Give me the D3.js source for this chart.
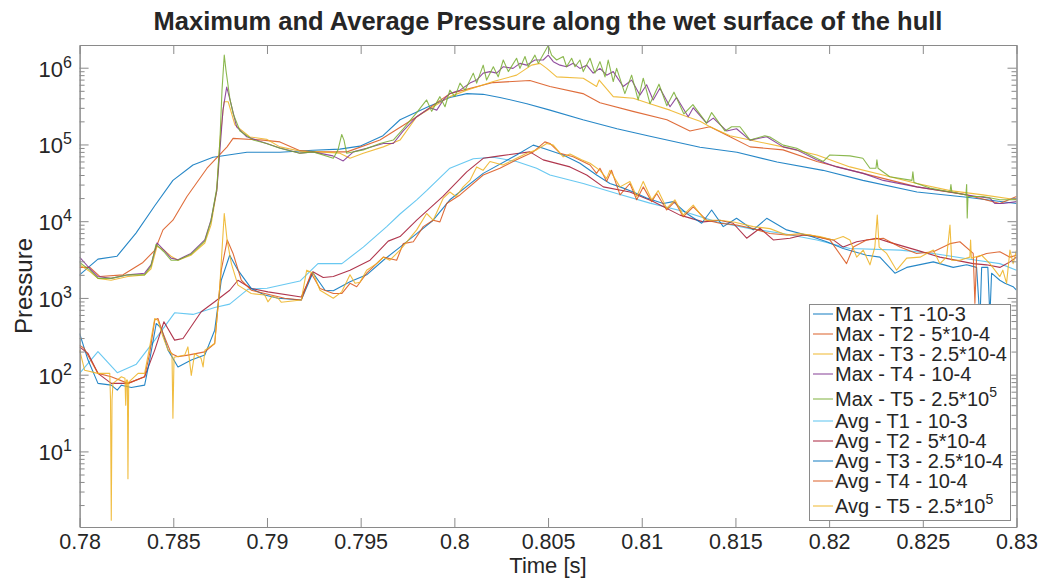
<!DOCTYPE html>
<html><head><meta charset="utf-8">
<script src="https://cdn.jsdelivr.net/npm/d3@7"></script>
<style>
body{margin:0;background:#fff}
svg{display:block}
text{font-family:"Liberation Sans",Arial,Helvetica,sans-serif;fill:#262626}
</style>
</head><body><svg id="c" width="1040" height="578"></svg>
<script>
// ---------- tick labels ----------
const xTicks = [0.78,0.785,0.79,0.795,0.8,0.805,0.81,0.815,0.82,0.825,0.83];
const yTickExps = [1,2,3,4,5,6];

// ---------- legend ----------
const legendLabels = [
  ["Max - T1 -10-3",""],["Max - T2 - 5*10-4",""],["Max - T3 - 2.5*10-4",""],["Max - T4 - 10-4",""],
  ["Max - T5 - 2.5*10","5"],["Avg - T1 - 10-3",""],["Avg - T2 - 5*10-4",""],["Avg - T3 - 2.5*10-4",""],
  ["Avg - T4 - 10-4",""],["Avg - T5 - 2.5*10","5"]
];
const seriesColors = ["#0072BD","#D95319","#EDB120","#7E2F8E","#77AC30","#4DBEEE","#A2142F","#0072BD","#D95319","#EDB120"];

// ---------- series: [time (s), pressure] ----------
const maxT1 = [[0.78,2.0e3],[0.78098,3.2e3],[0.782,3.5e3],[0.78301,7.0e3],[0.78402,1.6e4],[0.78498,3.4e4],[0.78605,5.4e4],[0.78712,6.8e4],[0.78893,7.9e4],[0.79069,7.9e4],[0.79245,8.4e4],[0.79389,8.7e4],[0.79496,9.5e4],[0.79619,1.3e5],[0.7971,2.1e5],[0.79854,3.05e5],[0.79976,4.1e5],[0.80067,4.6e5],[0.80153,4.5e5],[0.80243,4.1e5],[0.80387,3.4e5],[0.8051,2.8e5],[0.80686,2.1e5],[0.80868,1.6e5],[0.81044,1.28e5],[0.81311,9.2e4],[0.81508,7.9e4],[0.81722,5.9e4],[0.81967,4.6e4],[0.8218,3.4e4],[0.82469,2.4e4],[0.82735,2.05e4],[0.83,1.7e4]];

const maxT2 = [[0.78,2.5e3],[0.78055,2.5e3],[0.78109,1.9e3],[0.78232,2.0e3],[0.78338,2.9e3],[0.78402,4.2e3],[0.78445,7.7e3],[0.78498,1.03e4],[0.78573,2.1e4],[0.7868,4.9e4],[0.78787,9.3e4],[0.78819,1.2e5],[0.78979,1.14e5],[0.79069,1.08e5],[0.79176,8.3e4],[0.79245,8.0e4],[0.79427,8.0e4],[0.79603,1.14e5],[0.798,2.3e5],[0.79976,4.6e5],[0.80206,6.4e5],[0.80403,6.8e5],[0.8051,5.7e5],[0.80686,4.6e5],[0.80777,3.5e5],[0.80953,2.7e5],[0.81134,2.1e5],[0.81257,1.5e5],[0.81364,1.7e5],[0.81471,1.26e5],[0.81578,9.3e4],[0.81754,8.5e4],[0.81935,6.0e4],[0.82181,4.2e4],[0.82469,2.8e4],[0.82736,2.2e4],[0.82911,1.7e4],[0.83,2.1e4]];

const maxT3 = [[0.78,2.7e3],[0.78055,2.2e3],[0.78098,1.8e3],[0.78168,1.7e3],[0.78258,1.9e3],[0.78347,2.0e3],[0.78381,2.4e3],[0.78413,4.7e3],[0.7845,4.2e3],[0.78488,3.5e3],[0.78525,3.1e3],[0.78594,3.6e3],[0.78668,5.2e3],[0.78701,8.9e3],[0.78732,2.5e4],[0.78749,1.14e5],[0.78771,3.6e5],[0.78793,3.6e5],[0.78829,1.8e5],[0.78909,1.25e5],[0.78998,1.17e5],[0.79069,9.3e4],[0.79176,8.2e4],[0.79283,8.0e4],[0.79389,7.7e4],[0.79443,6.6e4],[0.79514,7.7e4],[0.79621,9.3e4],[0.7971,1.14e5],[0.79799,2.3e5],[0.79887,3.1e5],[0.79976,4.2e5],[0.80066,5.1e5],[0.80208,6.6e5],[0.80332,8.0e5],[0.80412,1.08e6],[0.80457,1.14e6],[0.80493,9.8e5],[0.80546,7.6e5],[0.80688,7.3e5],[0.80759,5.7e5],[0.80773,6.9e5],[0.80848,4.2e5],[0.80955,4.0e5],[0.81044,3.4e5],[0.81151,2.8e5],[0.81221,2.4e5],[0.81311,2.0e5],[0.81364,1.7e5],[0.81471,1.3e5],[0.81578,1.14e5],[0.81753,9.3e4],[0.81935,7.3e4],[0.82111,5.1e4],[0.82287,4.0e4],[0.82469,3.1e4],[0.82645,2.5e4],[0.82821,2.2e4],[0.83,1.9e4]];

const maxT4 = [[0.78,3.4e3],[0.78055,2.4e3],[0.78098,1.9e3],[0.78168,1.8e3],[0.78258,2.0e3],[0.78347,2.1e3],[0.78381,2.7e3],[0.78413,5.2e3],[0.7845,4.2e3],[0.78488,3.3e3],[0.78525,3.15e3],[0.78594,3.8e3],[0.78668,5.7e3],[0.78701,1.03e4],[0.78732,2.5e4],[0.78749,8.5e4],[0.78765,2.8e5],[0.78785,5.6e5],[0.78803,3.8e5],[0.78838,1.7e5],[0.78892,1.26e5],[0.78998,1.03e5],[0.79069,9.0e4],[0.79176,7.7e4],[0.79245,8.0e4],[0.79352,7.1e4],[0.79407,6.1e4],[0.79461,8.0e4],[0.79532,8.9e4],[0.79621,1.03e5],[0.79674,1.03e5],[0.79727,1.5e5],[0.79799,2.3e5],[0.7987,3.0e5],[0.79906,2.8e5],[0.79941,3.8e5],[0.79976,4.6e5],[0.8003,5.1e5],[0.80083,6.3e5],[0.80119,6.9e5],[0.80154,8.5e5],[0.8019,8.9e5],[0.80226,8.5e5],[0.80261,1.03e6],[0.80313,9.8e5],[0.8035,1.14e6],[0.80386,1.08e6],[0.8043,1.26e6],[0.80474,1.26e6],[0.80501,1.46e6],[0.80528,1.2e6],[0.80564,1.08e6],[0.80599,1.03e6],[0.80634,1.14e6],[0.8067,9.8e5],[0.80706,1.08e6],[0.80741,8.5e5],[0.80777,9.8e5],[0.80813,8.0e5],[0.80848,8.9e5],[0.80901,5.7e5],[0.80946,6.9e5],[0.8099,4.4e5],[0.81026,6.0e5],[0.81061,3.8e5],[0.81097,5.4e5],[0.81151,3.1e5],[0.81186,4.1e5],[0.81248,2.3e5],[0.81275,3.0e5],[0.81346,1.9e5],[0.81382,2.2e5],[0.81453,1.5e5],[0.81506,1.6e5],[0.81578,1.14e5],[0.81667,1.26e5],[0.81755,9.3e4],[0.81827,8.5e4],[0.81933,6.3e4],[0.8204,5.1e4],[0.82182,4.2e4],[0.82289,3.4e4],[0.82467,2.8e4],[0.82645,2.4e4],[0.82787,2.1e4],[0.82858,2.0e4],[0.82885,1.7e4],[0.82929,1.7e4],[0.83,1.8e4]];

const maxT5 = [[0.78,2.9e3],[0.78055,2.3e3],[0.78098,1.8e3],[0.78168,1.8e3],[0.78258,2.0e3],[0.78347,2.0e3],[0.78381,2.6e3],[0.78408,5.0e3],[0.7845,4.0e3],[0.78488,3.1e3],[0.78525,3.1e3],[0.78594,3.7e3],[0.78668,5.5e3],[0.78701,1.0e4],[0.78732,2.7e4],[0.78749,1.14e5],[0.7876,5.1e5],[0.78772,1.46e6],[0.78781,9.3e5],[0.78803,3.8e5],[0.7882,2.5e5],[0.78856,1.5e5],[0.78927,1.14e5],[0.78998,1.03e5],[0.79069,8.9e4],[0.79176,7.7e4],[0.79247,8.0e4],[0.79354,6.6e4],[0.79379,8.5e4],[0.79399,1.35e5],[0.79411,1.14e5],[0.79425,7.7e4],[0.79514,8.5e4],[0.79603,1.03e5],[0.79674,1.14e5],[0.79727,1.6e5],[0.79799,2.6e5],[0.79852,3.8e5],[0.79879,2.7e5],[0.79923,4.2e5],[0.7995,3.1e5],[0.79976,5.1e5],[0.80003,4.2e5],[0.8003,6.3e5],[0.80057,5.1e5],[0.80101,8.5e5],[0.80119,6.3e5],[0.80154,1.08e6],[0.80172,6.9e5],[0.80208,1.03e6],[0.80234,7.6e5],[0.80261,1.26e6],[0.80288,8.9e5],[0.80332,1.33e6],[0.8035,9.8e5],[0.80377,1.4e6],[0.80394,1.03e6],[0.8043,1.46e6],[0.80448,1.14e6],[0.80501,1.95e6],[0.80519,1.46e6],[0.80546,1.26e6],[0.80581,1.4e6],[0.80599,1.03e6],[0.80626,1.33e6],[0.80644,1.03e6],[0.8067,1.26e6],[0.80688,8.9e5],[0.80724,1.33e6],[0.8075,8.5e5],[0.80777,1.2e6],[0.80804,7.6e5],[0.80821,1.26e6],[0.80848,6.6e5],[0.80866,9.8e5],[0.8091,4.6e5],[0.80946,8.0e5],[0.80981,3.8e5],[0.81008,7.3e5],[0.81044,3.4e5],[0.81092,6.1e5],[0.81134,3.2e5],[0.81172,4.8e5],[0.81225,2.5e5],[0.81273,3.3e5],[0.81346,1.9e5],[0.81373,2.6e5],[0.81444,1.5e5],[0.8148,1.7e5],[0.81524,1.7e5],[0.81578,1.14e5],[0.81657,1.3e5],[0.81684,1.25e5],[0.81755,9.8e4],[0.81827,8.9e4],[0.81898,7.3e4],[0.81969,6.0e4],[0.82004,7.3e4],[0.82111,7.1e4],[0.8218,6.6e4],[0.82218,4.9e4],[0.8225,4.9e4],[0.82255,6.3e4],[0.82261,4.9e4],[0.82324,3.8e4],[0.82442,3.4e4],[0.82447,4.4e4],[0.82453,3.2e4],[0.82538,2.7e4],[0.82645,2.4e4],[0.8265,3.0e4],[0.82655,2.4e4],[0.8273,2.2e4],[0.82734,3.0e4],[0.82737,1.1e4],[0.82741,2.1e4],[0.82821,2.1e4],[0.82911,1.9e4],[0.83,1.9e4]];

const avgT1 = [[0.78,104],[0.78098,200],[0.78201,106],[0.78303,137],[0.78401,282],[0.78507,640],[0.78605,610],[0.78721,750],[0.78801,830],[0.78899,1.3e3],[0.79,1.34e3],[0.79176,1.66e3],[0.79272,2.8e3],[0.794,2.8e3],[0.79514,4.6e3],[0.79639,8.5e3],[0.7971,1.24e4],[0.79799,1.9e4],[0.79852,2.5e4],[0.79976,4.9e4],[0.80101,6.5e4],[0.80208,6.8e4],[0.80332,6.0e4],[0.80439,4.9e4],[0.8051,4.0e4],[0.80688,3.1e4],[0.80866,2.3e4],[0.81044,1.72e4],[0.8122,1.35e4],[0.814,9.8e3],[0.81578,8.0e3],[0.81753,6.9e3],[0.81935,5.7e3],[0.82111,4.4e3],[0.82378,4.2e3],[0.82556,3.8e3],[0.82787,3.1e3],[0.82911,2.8e3],[0.83,2.3e3]];

const avgT2 = [[0.78,230],[0.78045,189],[0.78098,104],[0.78169,77],[0.78258,77],[0.78347,94],[0.78401,209],[0.7845,490],[0.78507,282],[0.78552,296],[0.78649,660],[0.78721,890],[0.78801,1.26e3],[0.78845,1.7e3],[0.78916,1.33e3],[0.79005,1.2e3],[0.79183,1.03e3],[0.79245,2.2e3],[0.793,1.85e3],[0.79354,1.9e3],[0.79443,2.3e3],[0.7955,3.1e3],[0.79647,5.5e3],[0.7971,6.3e3],[0.79799,1.03e4],[0.79939,2.1e4],[0.80066,4.4e4],[0.80154,6.6e4],[0.80243,7.1e4],[0.80403,8.0e4],[0.80474,6.3e4],[0.80617,5.1e4],[0.80706,4.0e4],[0.80795,2.8e4],[0.80937,2.4e4],[0.81061,1.8e4],[0.81204,1.2e4],[0.81328,9.8e3],[0.81417,1.03e4],[0.81488,9.4e3],[0.8156,6.0e3],[0.81631,8.1e3],[0.81702,5.7e3],[0.81791,6.0e3],[0.81862,6.6e3],[0.81933,6.3e3],[0.82022,5.7e3],[0.82075,4.6e3],[0.82147,5.4e3],[0.82254,6.0e3],[0.82324,5.3e3],[0.82467,4.2e3],[0.82591,3.4e3],[0.82769,2.8e3],[0.8284,2.7e3],[0.82911,2.5e3],[0.82965,2.95e3],[0.83,3.4e3]];

const avgT3 = [[0.78,344],[0.78045,155],[0.78098,77],[0.78169,73],[0.78201,63],[0.78223,73],[0.78276,68],[0.78347,73],[0.78374,155],[0.78409,465],[0.78436,400],[0.78472,209],[0.78525,126],[0.78596,155],[0.78668,180],[0.78721,380],[0.78756,1.7e3],[0.78801,3.6e3],[0.78845,2.3e3],[0.78916,1.33e3],[0.78988,1.09e3],[0.79059,990],[0.79183,940],[0.79245,2.12e3],[0.7931,1.26e3],[0.79354,1.24e3],[0.79443,1.62e3],[0.79532,2.0e3],[0.79621,3.1e3],[0.7971,4.6e3],[0.79799,6.9e3],[0.79887,1.03e4],[0.79976,1.9e4],[0.80154,4.2e4],[0.80332,7.3e4],[0.80421,9.8e4],[0.80474,8.9e4],[0.80581,7.3e4],[0.8067,5.7e4],[0.80759,4.0e4],[0.8083,3.1e4],[0.80884,2.8e4],[0.80955,2.4e4],[0.81026,2.0e4],[0.81115,1.7e4],[0.81168,1.8e4],[0.8124,1.26e4],[0.8132,9.4e3],[0.81373,1.4e4],[0.81435,8.5e3],[0.81506,1.09e4],[0.81595,7.7e3],[0.81667,1.09e4],[0.81773,7.7e3],[0.81898,6.4e3],[0.81987,5.4e3],[0.82075,4.4e3],[0.822,3.6e3],[0.82271,3.4e3],[0.82351,2.1e3],[0.82414,2.5e3],[0.82556,2.95e3],[0.82662,2.5e3],[0.82734,2.7e3],[0.82787,2.5e3],[0.82805,510],[0.82814,2.5e3],[0.82847,2.5e3],[0.82858,570],[0.82867,2.1e3],[0.82911,1.7e3],[0.82938,1.55e3],[0.82982,1.4e3],[0.83,1.26e3]];

const avgT4 = [[0.78,242],[0.78023,222],[0.78098,104],[0.78169,94],[0.78258,77],[0.78347,94],[0.78374,189],[0.78401,514],[0.78418,540],[0.78445,348],[0.78489,189],[0.78525,171],[0.78578,180],[0.78668,198],[0.78721,255],[0.78756,2.3e3],[0.78788,5.7e3],[0.78819,3.8e3],[0.78863,1.7e3],[0.78916,1.26e3],[0.78988,1.14e3],[0.79094,990],[0.79183,940],[0.79236,2.1e3],[0.79283,1.33e3],[0.79354,1.14e3],[0.79399,1.14e3],[0.79443,1.55e3],[0.79479,1.4e3],[0.79532,2.1e3],[0.79621,3.4e3],[0.79692,3.1e3],[0.79727,5.1e3],[0.79781,5.4e3],[0.79834,8.5e3],[0.79887,1.03e4],[0.79923,9.8e3],[0.79959,1.7e4],[0.8003,2.2e4],[0.80154,4.0e4],[0.80243,4.9e4],[0.80332,6.3e4],[0.80421,8.0e4],[0.80483,1.08e5],[0.8051,1.03e5],[0.80564,7.7e4],[0.80634,6.9e4],[0.80724,5.4e4],[0.80759,4.2e4],[0.80777,4.9e4],[0.80813,3.3e4],[0.80839,4.6e4],[0.80884,2.2e4],[0.80937,3.1e4],[0.80973,1.9e4],[0.81008,2.8e4],[0.81053,1.8e4],[0.8108,2.3e4],[0.81133,1.4e4],[0.81177,1.8e4],[0.81221,1.14e4],[0.81275,1.54e4],[0.81346,1.03e4],[0.81417,9.4e3],[0.81506,8.9e3],[0.81595,8.0e3],[0.81684,6.9e3],[0.81773,6.6e3],[0.81898,6.6e3],[0.82004,5.7e3],[0.82093,2.8e3],[0.82129,4.6e3],[0.822,5.7e3],[0.82289,6.0e3],[0.82378,4.6e3],[0.82467,3.8e3],[0.82556,4.0e3],[0.82645,5.1e3],[0.82698,5.4e3],[0.82769,3.8e3],[0.82778,850],[0.82787,3.4e3],[0.8284,3.8e3],[0.82911,4.0e3],[0.82965,3.4e3],[0.83,3.6e3]];

const avgT5 = [[0.78,210],[0.78027,114],[0.78098,104],[0.78161,104],[0.78165,47],[0.78169,1.27],[0.78173,47],[0.78178,77],[0.78223,94],[0.78242,90],[0.78246,40],[0.7825,85],[0.78255,85],[0.78258,4.4],[0.78262,80],[0.78312,104],[0.78347,104],[0.78374,230],[0.78401,540],[0.78418,510],[0.78445,311],[0.78472,209],[0.78493,189],[0.78498,27],[0.78504,169],[0.78561,180],[0.78578,230],[0.78596,98],[0.78614,189],[0.78648,164],[0.78659,126],[0.78669,209],[0.78721,255],[0.78748,1.4e3],[0.78772,1.26e4],[0.78787,5.7e3],[0.7881,2.8e3],[0.78845,1.47e3],[0.78916,1.14e3],[0.78988,1.09e3],[0.79005,890],[0.79027,1.05e3],[0.79059,990],[0.79076,880],[0.79183,940],[0.79212,2.3e3],[0.79247,2.1e3],[0.79283,1.26e3],[0.79354,990],[0.79399,1.2e3],[0.79443,2.0e3],[0.7947,1.55e3],[0.79496,1.6e3],[0.79532,2.3e3],[0.79585,2.8e3],[0.79621,3.4e3],[0.79656,3.1e3],[0.7971,4.2e3],[0.79799,7.7e3],[0.79852,1.26e4],[0.79887,1.03e4],[0.79941,2.0e4],[0.79976,2.4e4],[0.80009,2.1e4],[0.80047,2.8e4],[0.80083,3.4e4],[0.80119,5.1e4],[0.80153,4.6e4],[0.8019,6.0e4],[0.80259,5.4e4],[0.80332,6.6e4],[0.80386,7.7e4],[0.80439,8.5e4],[0.80493,1.03e5],[0.80528,9.8e4],[0.80581,6.9e4],[0.80617,7.5e4],[0.80679,6.3e4],[0.80724,5.7e4],[0.80777,4.6e4],[0.80813,3.6e4],[0.8083,4.6e4],[0.80884,2.8e4],[0.80937,3.3e4],[0.80973,2.1e4],[0.81008,3.3e4],[0.81053,1.9e4],[0.81088,2.5e4],[0.81133,1.47e4],[0.81177,1.9e4],[0.81221,1.2e4],[0.81275,1.62e4],[0.81337,1.03e4],[0.81417,1.03e4],[0.81497,9.7e3],[0.81595,8.5e3],[0.81684,8.0e3],[0.81773,6.6e3],[0.81844,6.9e3],[0.81951,6.3e3],[0.82022,5.7e3],[0.82075,6.3e3],[0.82111,5.7e3],[0.82147,3.4e3],[0.82182,4.2e3],[0.82218,2.7e3],[0.82244,4.6e3],[0.82257,1.2e4],[0.82267,4.6e3],[0.82307,3.8e3],[0.8236,2.3e3],[0.82414,3.3e3],[0.82485,3.4e3],[0.82556,4.2e3],[0.82591,2.8e3],[0.82627,3.4e3],[0.82645,8.9e3],[0.82654,3.1e3],[0.82698,3.1e3],[0.82751,3.4e3],[0.82755,5.7e3],[0.82759,3.3e3],[0.82814,3.6e3],[0.82858,2.8e3],[0.82911,1.9e3],[0.82927,2.3e3],[0.82947,1.55e3],[0.82965,4.2e3],[0.82982,2.8e3],[0.83,4.2e3]];

const allSeries = [maxT1,maxT2,maxT3,maxT4,maxT5,avgT1,avgT2,avgT3,avgT4,avgT5];

// ---------- layout ----------
const W = 1040, H = 578;
const L = 79.6, R = 1016.5, T = 45, B = 527;
const axisColor = "#8a8a8a";
const FONT = '"Liberation Sans",Arial,Helvetica,sans-serif';

const x = d3.scaleLinear().domain([0.78, 0.83]).range([L, R]);
const y = d3.scaleLog().domain([Math.pow(10, 0.015), Math.pow(10, 6.296)]).range([B, T]);

const svg = d3.select("#c");
svg.append("rect").attr("width", W).attr("height", H).attr("fill", "#fff");

svg.append("defs").append("clipPath").attr("id", "clip")
  .append("rect").attr("x", L).attr("y", T).attr("width", R - L).attr("height", B - T);

// lines
const line = d3.line().x(d => x(d[0])).y(d => y(d[1]));
const plot = svg.append("g").attr("clip-path", "url(#clip)");
allSeries.forEach((s, i) => {
  plot.append("path").datum(s).attr("d", line)
    .attr("fill", "none").attr("stroke", seriesColors[i])
    .attr("stroke-width", 1.1).attr("stroke-opacity", 0.85)
    .attr("stroke-linejoin", "round");
});

// axes
const majorY = yTickExps.map(e => Math.pow(10, e));
const minorY = [];
for (let e = 0; e <= 6; e++) for (let m = 2; m <= 9; m++) {
  const v = m * Math.pow(10, e);
  if (v >= y.domain()[0] && v <= y.domain()[1]) minorY.push(v);
}
function styleAxis(g) {
  g.attr("color", axisColor).attr("font-family", FONT);
  g.selectAll("path.domain").attr("stroke", axisColor).attr("stroke-width", 1);
  g.selectAll(".tick line").attr("stroke", axisColor).attr("stroke-width", 1);
}
svg.append("g").attr("transform", `translate(0,${B})`)
  .call(d3.axisBottom(x).tickValues(xTicks).tickSizeInner(-9).tickSizeOuter(0).tickPadding(7).tickFormat(d3.format("~g")))
  .call(styleAxis)
  .call(g => g.selectAll(".tick text").attr("font-size", 21.5).attr("fill", "#262626"));
svg.append("g").attr("transform", `translate(0,${T})`)
  .call(d3.axisTop(x).tickValues(xTicks).tickSizeInner(-9).tickSizeOuter(0).tickFormat(""))
  .call(styleAxis);
svg.append("g").attr("transform", `translate(${L},0)`)
  .call(d3.axisLeft(y).tickValues(majorY).tickSizeInner(-9).tickSizeOuter(0).tickFormat(""))
  .call(styleAxis);
svg.append("g").attr("transform", `translate(${L},0)`)
  .call(d3.axisLeft(y).tickValues(minorY).tickSizeInner(-5).tickSizeOuter(0).tickFormat(""))
  .call(styleAxis);
svg.append("g").attr("transform", `translate(${R},0)`)
  .call(d3.axisRight(y).tickValues(majorY).tickSizeInner(-9).tickSizeOuter(0).tickFormat(""))
  .call(styleAxis);
svg.append("g").attr("transform", `translate(${R},0)`)
  .call(d3.axisRight(y).tickValues(minorY).tickSizeInner(-5).tickSizeOuter(0).tickFormat(""))
  .call(styleAxis);

// y tick labels 10^n
yTickExps.forEach(e => {
  const ty = y(Math.pow(10, e));
  const t = svg.append("text").attr("x", 72).attr("y", ty + 9)
    .attr("text-anchor", "end").attr("font-size", 22);
  t.append("tspan").text("10");
  t.append("tspan").attr("dy", -9).attr("font-size", 16).text(String(e));
});

// titles
svg.append("text").attr("x", 548).attr("y", 30).attr("text-anchor", "middle")
  .attr("font-size", 25.5).attr("font-weight", "bold").attr("fill", "#000")
  .text("Maximum and Average Pressure along the wet surface of the hull");
svg.append("text").attr("x", 548).attr("y", 572.5).attr("text-anchor", "middle")
  .attr("font-size", 22).text("Time [s]");
svg.append("text").attr("transform", "translate(32,286) rotate(-90)").attr("text-anchor", "middle")
  .attr("font-size", 24).text("Pressure");

// legend
const lg = svg.append("g");
lg.append("rect").attr("x", 809.5).attr("y", 304.5).attr("width", 201).attr("height", 216)
  .attr("fill", "#fff").attr("stroke", axisColor).attr("stroke-width", 1);
let ly = 314;
legendLabels.forEach((lab, i) => {
  if (lab[1]) ly += 5;
  lg.append("line").attr("x1", 813).attr("x2", 833).attr("y1", ly).attr("y2", ly)
    .attr("stroke", seriesColors[i]).attr("stroke-width", 1.1).attr("stroke-opacity", 0.85);
  const t = lg.append("text").attr("x", 835).attr("y", ly + 7).attr("font-size", 20);
  t.append("tspan").text(lab[0]);
  if (lab[1]) t.append("tspan").attr("dy", -9).attr("font-size", 14).text(lab[1]);
  ly += lab[1] ? 22 : 20;
});
</script>
</body></html>
